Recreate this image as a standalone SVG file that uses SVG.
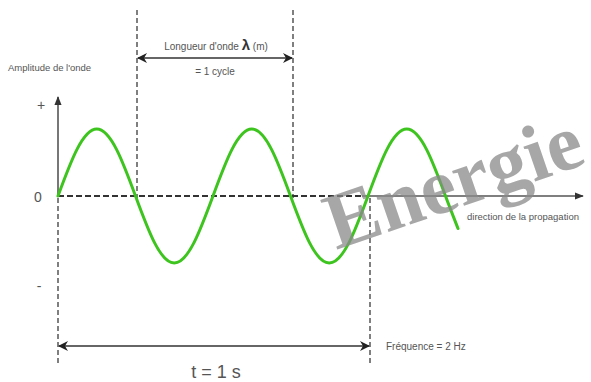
<svg xmlns="http://www.w3.org/2000/svg" width="591" height="382" viewBox="0 0 591 382">
<defs>
<style>
.lbl{font-family:"Liberation Sans",Arial,sans-serif;fill:#555;}
.dash{stroke:#555;stroke-width:1.5;stroke-dasharray:5,3;fill:none;}
.axis{stroke:#555;stroke-width:1.6;fill:none;}
.dim{stroke:#666;stroke-width:2;fill:none;}
</style>
<marker id="barb" viewBox="0 0 10 10" refX="9" refY="5" markerWidth="10" markerHeight="10" markerUnits="userSpaceOnUse" orient="auto-start-reverse">
<path d="M0,0 L10,5 L0,10 L3,5 z" fill="#222"/>
</marker>
<marker id="tri" viewBox="0 0 10 10" refX="9" refY="5" markerWidth="9" markerHeight="9" markerUnits="userSpaceOnUse" orient="auto">
<path d="M0,1 L10,5 L0,9 z" fill="#333"/>
</marker>
</defs>
<rect width="591" height="382" fill="#fff"/>
<g id="guides">
<line class="dash" x1="137" y1="10" x2="137" y2="198"/>
<line class="dash" x1="293" y1="10" x2="293" y2="198"/>
<line class="dash" x1="370" y1="198" x2="370" y2="366"/>
<line class="dash" x1="58" y1="198" x2="58" y2="366"/>
</g>
<g id="axes">
<line class="axis" x1="58" y1="196" x2="58" y2="97" marker-end="url(#tri)"/>
<line x1="58" y1="196" x2="362" y2="196" stroke="#333" stroke-width="1.8" stroke-dasharray="6,3"/>
<line class="axis" x1="362" y1="196" x2="583" y2="196" marker-end="url(#tri)"/>
</g>
<g id="connectors">
<line class="dim" x1="138" y1="58" x2="292" y2="58" marker-start="url(#barb)" marker-end="url(#barb)"/>
<line class="dim" x1="59" y1="346" x2="369" y2="346" marker-start="url(#barb)" marker-end="url(#barb)"/>
</g>
<g id="wave">
<path fill="none" stroke="#3ec41e" stroke-width="3" stroke-linecap="round" d="M58,196 c12.64,-34.32 24.73,-67 38.75,-67 c14.02,0 26.11,32.68 38.75,67 c12.64,34.32 24.73,67 38.75,67 c14.02,0 26.11,-32.68 38.75,-67 c12.64,-34.32 24.73,-67 38.75,-67 c14.02,0 26.11,32.68 38.75,67 c12.64,34.32 24.73,67 38.75,67 c14.02,0 26.11,-32.68 38.75,-67 c12.64,-34.32 24.73,-67 38.75,-67 c14.02,0 26.11,32.68 38.75,67 c4.17,11.32 8.33,21.6 12.5,32.5"/>
</g>
<g id="labels">
<text class="lbl" x="8" y="71" font-size="9.5">Amplitude de l'onde</text>
<text class="lbl" x="41" y="110" font-size="14" text-anchor="middle">+</text>
<text class="lbl" x="38" y="202" font-size="14" text-anchor="middle">0</text>
<text class="lbl" x="39" y="291" font-size="14" text-anchor="middle">-</text>
<text class="lbl" x="216" y="50" font-size="10" text-anchor="middle">Longueur d'onde <tspan font-size="15" font-weight="bold" fill="#333">λ</tspan> (m)</text>
<text class="lbl" x="215" y="75" font-size="10" text-anchor="middle">= 1 cycle</text>
<text class="lbl" x="467" y="220" font-size="9.5">direction de la propagation</text>
<text class="lbl" x="386" y="350" font-size="10">Fréquence = 2 Hz</text>
<text class="lbl" x="216" y="378" font-size="18" text-anchor="middle">t  = 1 s</text>
</g>
<g id="watermark">
<text x="336" y="250" transform="rotate(-19 336 250)" font-family="'Liberation Serif','Times New Roman',serif" font-weight="bold" font-size="80" fill="#8a8a8a" fill-opacity="0.75">Energie</text>
</g>
</svg>
